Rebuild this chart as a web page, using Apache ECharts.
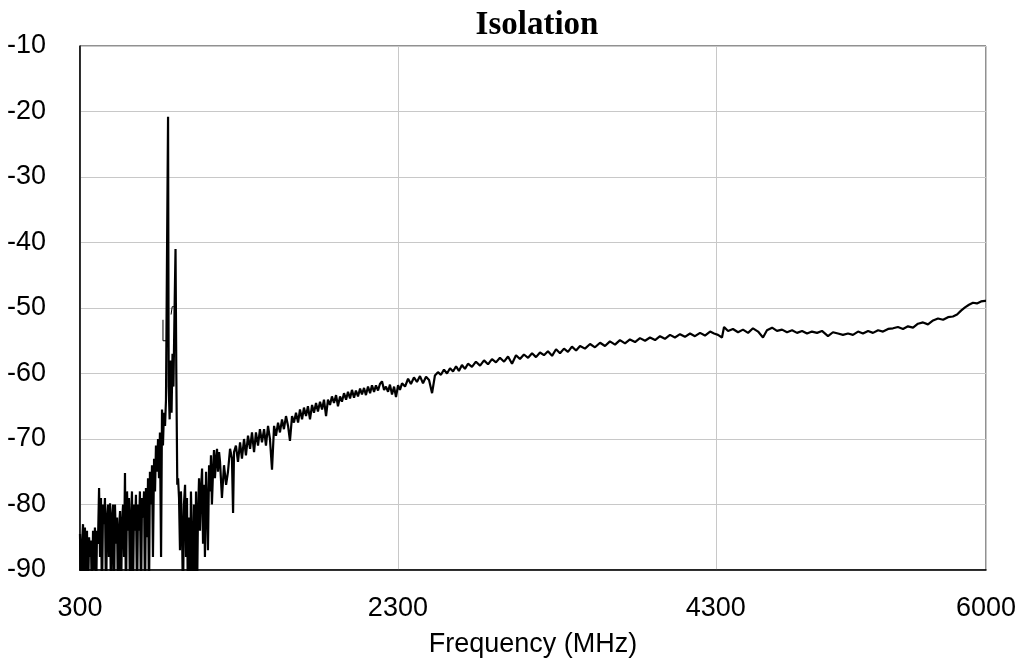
<!DOCTYPE html>
<html>
<head>
<meta charset="utf-8">
<script src="https://cdn.jsdelivr.net/npm/echarts@6/dist/echarts.min.js"></script>
<style>
html,body{margin:0;padding:0;background:#fff;}
#chart{width:1024px;height:669px;}
</style>
</head>
<body>
<div id="chart"></div>
<script>
// Frequency (MHz), Isolation (dB) pairs
var lowBand = [
[300,-84.5],[306,-95],[313,-86],[319,-83],[325,-95],[331,-83.5],[338,-92],[344,-84],[350,-95],[357,-85],
[363,-88],[369,-85.5],[375,-95],[382,-84],[388,-90],[394,-83.5],[401,-95],[407,-84],[413,-86],[420,-77.5],
[426,-88],[432,-79],[438,-95],[445,-80],[451,-83],[457,-79],[464,-95],[470,-82],[476,-80],[482,-88],
[489,-79.8],[495,-95],[501,-82],[508,-80],[514,-95],[520,-80],[526,-86],[533,-82],[539,-95],[545,-84],
[552,-81],[558,-95],[564,-83],[571,-80],[577,-88],[583,-75.2],[589,-95],[596,-78],[602,-84],[608,-79],
[615,-95],[621,-82],[627,-78],[633,-95],[640,-80],[646,-84],[652,-78.5],[659,-95],[665,-80],[671,-84],
[677,-78],[684,-95],[690,-79],[696,-82],[703,-78],[709,-95],[715,-77.5],[722,-85],[728,-76],[734,-95],
[740,-75],[747,-80],[753,-74],[759,-88],[766,-73],[772,-78],[778,-71],[784,-75],[791,-70],[797,-76],
[803,-69],[810,-88],[816,-65.5],[822,-71],[828,-66],[835,-68],[841,-64],[848,-40],[854,-20.8],[858,-62],
[864,-67],[870,-58],[876,-66],[882,-57],[888,-62],[895,-50],[901,-41],[906,-60],[912,-77],[917,-76],
[923,-79],[929,-87],[935,-78],[942,-84],[948,-95],[954,-80],[961,-77],[967,-88],[973,-79],[979,-95],
[986,-82],[992,-95],[998,-78],[1005,-86],[1011,-95],[1017,-80],[1024,-93],[1030,-78],[1036,-95],[1042,-82],
[1049,-76],[1055,-84],[1061,-78],[1068,-74.5],[1074,-86],[1080,-77],[1086,-88],[1093,-75],[1099,-80],[1105,-87],
[1112,-74],[1118,-78],[1124,-72.5],[1130,-80],[1137,-75],[1143,-71.7],[1149,-76],[1156,-73],[1162,-71.5],[1168,-75],
[1175,-72],[1181,-73.5]
];
var midBand = [
[1193,-79],[1206,-74],[1219,-77],[1231,-75],[1244,-71.5],[1256,-73],[1263,-81.3],[1269,-72],[1281,-71],[1294,-73.5],
[1307,-70.5],[1319,-73],[1332,-70],[1344,-72.5],[1357,-69.5],[1370,-71.5],[1382,-69],[1395,-72],[1407,-69],[1420,-71],
[1432,-68.5],[1445,-70.5],[1458,-68.5],[1470,-71],[1483,-68],[1495,-70],[1508,-74.7],[1521,-68],[1533,-69.5],[1546,-67.5],
[1558,-69],[1571,-67],[1583,-68.5],[1596,-66.5],[1609,-68],[1621,-70.3],[1634,-66.5],[1646,-67.5],[1659,-66],[1672,-67.5],
[1684,-65.5],[1697,-67],[1709,-65.2],[1722,-66.5],[1734,-65],[1747,-67],[1760,-64.8],[1772,-66],[1785,-64.5],[1797,-65.8],
[1810,-64.3],[1823,-65.5],[1835,-64],[1848,-66.5],[1860,-64],[1873,-64.8],[1885,-63.5],[1898,-64.5],[1911,-63.3],[1923,-65],
[1936,-63.5],[1948,-64.3],[1961,-63],[1974,-64],[1986,-62.8],[1999,-63.8],[2011,-62.5],[2024,-63.7],[2036,-62.6],[2049,-63.5],
[2062,-62.3],[2074,-63.2],[2087,-62.2],[2099,-63.3],[2112,-62],[2125,-63],[2137,-61.8],[2150,-62.8],[2162,-61.8],[2175,-62.6],
[2187,-61.6],[2200,-61.2],[2213,-62.5],[2225,-62],[2238,-62.8],[2250,-61.7],[2263,-63.2],[2276,-62],[2288,-63.6],[2301,-61.8],
[2313,-62.5]
];
var highBand = [
[2326,-61.5],[2345,-62],[2364,-60.8],[2382,-61.6],[2401,-60.6],[2420,-61.3],[2439,-60.4],[2458,-61.5],[2477,-60.5],[2496,-61],
[2515,-63],[2533,-60.3],[2552,-59.8],[2571,-60.2],[2590,-59.4],[2609,-60],[2628,-59.2],[2647,-59.7],[2666,-58.9],[2684,-59.6],
[2703,-58.7],[2722,-59.3],[2741,-58.5],[2766,-59],[2791,-58.2],[2817,-58.8],[2842,-58],[2867,-58.6],[2892,-57.8],[2917,-58.3],
[2942,-57.6],[2968,-58.2],[2993,-57.4],[3018,-58.5],[3043,-57.2],[3068,-57.8],[3093,-57.1],[3119,-57.6],[3144,-56.9],[3169,-57.5],
[3194,-56.8],[3219,-57.2],[3244,-56.6],[3270,-57.3],[3295,-56.3],[3320,-56.9],[3345,-56.2],[3370,-56.7],[3395,-55.9],[3421,-56.5],
[3446,-55.8],[3477,-56.2],[3509,-55.5],[3540,-56],[3572,-55.3],[3603,-55.8],[3634,-55.1],[3666,-55.6],[3697,-54.9],[3729,-55.4],
[3760,-54.8],[3792,-55.2],[3823,-54.6],[3855,-55],[3886,-54.5],[3918,-54.9],[3949,-54.3],[3980,-54.7],[4012,-54.1],[4043,-54.5],
[4075,-54],[4106,-54.4],[4138,-53.9],[4169,-54.3],[4201,-53.8],[4232,-54.2],[4264,-53.6],[4289,-53.9],[4314,-54.1],[4339,-54.5],
[4352,-52.9],[4377,-53.5],[4408,-53.2],[4440,-53.7],[4471,-53.3],[4503,-53.8],[4534,-53.1],[4566,-53.6],[4597,-54.5],[4622,-53.4],
[4654,-53],[4685,-53.5],[4717,-53.3],[4748,-53.7],[4780,-53.4],[4811,-53.8],[4843,-53.5],[4874,-53.9],[4905,-53.6],[4937,-53.8],
[4968,-53.5],[5006,-54.3],[5037,-53.7],[5069,-53.9],[5100,-54.1],[5132,-53.9],[5163,-54.1],[5195,-53.6],[5226,-53.9],[5258,-53.5],
[5289,-53.8],[5321,-53.4],[5352,-53.6],[5384,-53.2],[5415,-53.1],[5446,-52.9],[5478,-53.2],[5509,-52.8],[5541,-53],[5572,-52.4],
[5604,-52.2],[5635,-52.5],[5667,-51.9],[5698,-51.6],[5730,-51.8],[5761,-51.4],[5792,-51.3],[5818,-51],[5843,-50.4],[5868,-49.9],
[5893,-49.5],[5918,-49.2],[5943,-49.3],[5969,-49],[5994,-48.9],[6000,-48.9]
];
// small stray trace fragments near the peak
var strayA = [[822,-51.8],[822,-55],[845,-55]];
var strayB = [[873,-51],[880,-49.8],[891,-49.8]];

var yTicks = {min:-90, max:-10, step:10};
var xTicks = {min:300, max:6000, step:2000};

var mainData = lowBand.concat(midBand, highBand);

var chart = echarts.init(document.getElementById('chart'), null, {renderer:'canvas'});
chart.setOption({
  animation:false,
  backgroundColor:'#fff',
  title:{
    text:'Isolation', left:532, textAlign:'center', top:4,
    textStyle:{fontFamily:'Liberation Serif', fontWeight:'bold', fontSize:33, color:'#000'}
  },
  grid:{left:80, right:38, top:46, bottom:99, show:true, borderColor:'#222', borderWidth:1, backgroundColor:'transparent'},
  xAxis:{
    type:'value', min:xTicks.min, max:xTicks.max, interval:xTicks.step,
    name:'Frequency (MHz)', nameLocation:'middle', nameGap:61,
    nameTextStyle:{fontFamily:'Liberation Sans', fontSize:27, color:'#000'},
    axisLine:{show:true, onZero:false, lineStyle:{color:'#000', width:1.5}},
    axisTick:{show:false},
    axisLabel:{fontFamily:'Liberation Sans', fontSize:27, color:'#000', margin:25, showMaxLabel:true, showMinLabel:true,
      formatter:function(v){return String(v);}},
    splitLine:{show:true, lineStyle:{color:'#c8c8c8', width:1}}
  },
  yAxis:{
    type:'value', min:yTicks.min, max:yTicks.max, interval:yTicks.step,
    axisLine:{show:true, onZero:false, lineStyle:{color:'#000', width:1.5}},
    axisTick:{show:false},
    axisLabel:{fontFamily:'Liberation Sans', fontSize:27, color:'#000', margin:34,
      formatter:function(v){return String(v);}},
    splitLine:{show:true, lineStyle:{color:'#c8c8c8', width:1}}
  },
  series:[
    {type:'line', data:mainData, showSymbol:false, symbol:'none', clip:true, sampling:'none',
     lineStyle:{color:'#000', width:2.2}, z:3},
    {type:'line', data:strayA, showSymbol:false, symbol:'none', clip:true,
     lineStyle:{color:'#000', width:1}, z:3},
    {type:'line', data:strayB, showSymbol:false, symbol:'none', clip:true,
     lineStyle:{color:'#000', width:1}, z:3}
  ]
});
</script>
</body>
</html>
